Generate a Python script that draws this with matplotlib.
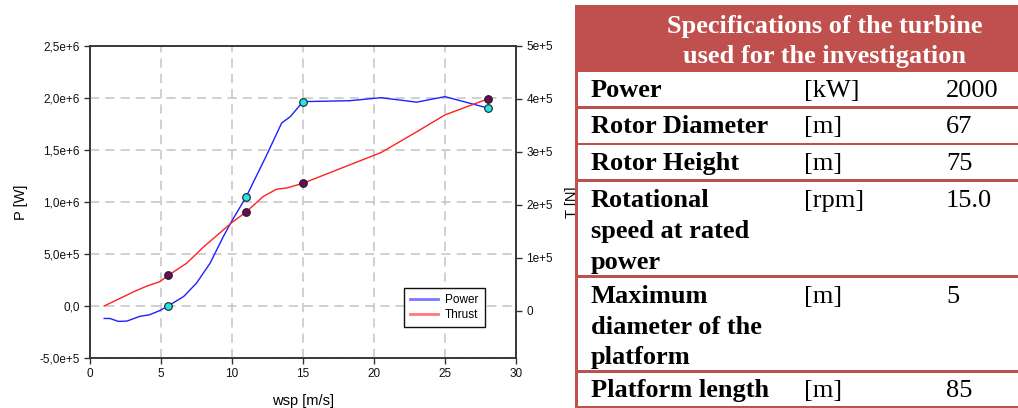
import matplotlib
matplotlib.use("Agg")
import matplotlib.pyplot as plt
from matplotlib.lines import Line2D
from matplotlib.patches import Rectangle

plt.rcParams["font.family"] = ["Liberation Sans", "DejaVu Sans"]

# power curve [W] vs wind speed [m/s]
wsp_power = [1.0, 1.4, 2.0, 2.6, 3.5, 4.2, 4.9, 5.5, 6.6, 7.5, 8.45, 9.4, 10.0,
             11.0, 12.4, 13.5, 14.1, 15.0, 18.3, 20.5, 23.0, 25.0, 28.0]
power = [-0.12e6, -0.12e6, -0.148e6, -0.145e6, -0.10e6, -0.084e6, -0.045e6,
         0.0, 0.092e6, 0.22e6, 0.41e6, 0.67e6, 0.82e6, 1.05e6, 1.44e6,
         1.76e6, 1.82e6, 1.965e6, 1.974e6, 2.003e6, 1.96e6, 2.013e6, 1.904e6]

# thrust curve [N] vs wind speed [m/s]
wsp_thrust = [1.0, 1.9, 3.05, 4.0, 4.9, 5.5, 6.8, 8.0, 10.0, 11.0, 12.2,
              13.15, 13.85, 15.0, 20.5, 23.0, 25.0, 28.0]
thrust = [0.094e5, 0.21e5, 0.36e5, 0.47e5, 0.55e5, 0.67e5, 0.90e5, 1.21e5,
          1.67e5, 1.87e5, 2.16e5, 2.30e5, 2.32e5, 2.41e5, 2.99e5, 3.38e5,
          3.70e5, 4.0e5]

# operating points marked on both curves
mark_wsp = [5.5, 11.0, 15.0, 28.0]
mark_power = [0.0, 1.05e6, 1.965e6, 1.904e6]
mark_thrust = [0.67e5, 1.87e5, 2.41e5, 4.0e5]

p_ticks = [-0.5e6, 0.0, 0.5e6, 1.0e6, 1.5e6, 2.0e6, 2.5e6]
p_ticklabels = ["-5,0e+5", "0,0", "5,0e+5", "1,0e+6", "1,5e+6", "2,0e+6", "2,5e+6"]
t_ticks = [0, 1e5, 2e5, 3e5, 4e5, 5e5]
t_ticklabels = ["0", "1e+5", "2e+5", "3e+5", "4e+5", "5e+5"]
x_ticks = [0, 5, 10, 15, 20, 25, 30]

# turbine spec table
spec_title = ["Specifications of the turbine", "used for the investigation"]
spec_names = ["Power", "Rotor Diameter", "Rotor Height",
              "Rotational\nspeed at rated\npower",
              "Maximum\ndiameter of the\nplatform", "Platform length"]
spec_units = ["[kW]", "[m]", "[m]", "[rpm]", "[m]", "[m]"]
spec_values = ["2000", "67", "75", "15.0", "5", "85"]

W, H = 1018, 408
fig = plt.figure(figsize=(W / 100, H / 100), dpi=100, facecolor="white")
ax = fig.add_axes([90 / W, 1 - 358 / H, 426 / W, 312 / H])
ax2 = ax.twinx()

spine_c = "#333333"
for a in (ax, ax2):
    for s in a.spines.values():
        s.set_color(spine_c)
        s.set_linewidth(1.1)
    a.tick_params(direction="out", length=4, width=1, color=spine_c,
                  labelsize=8.5, labelcolor="#111111")

ax.grid(True, ls=(0, (6, 4)), color="#c4c4c4", lw=1.1)
ax.set_axisbelow(True)

ax.plot(wsp_power, power, color="#1f1fff", lw=1.0, zorder=3)
ax.plot(mark_wsp, mark_power, ls="none", marker="o", ms=5.5,
        mfc="#22e6e6", mec="#202020", mew=0.8, zorder=4)
ax2.plot(wsp_thrust, thrust, color="#ff2020", lw=1.0, zorder=3)
ax2.plot(mark_wsp, mark_thrust, ls="none", marker="o", ms=5.5,
         mfc="#6a0a5c", mec="#202020", mew=0.8, zorder=4)

ax.set_xlim(0, 30)
ax.set_ylim(-0.5e6, 2.5e6)
ax2.set_ylim(-0.887e5, 5e5)
ax.set_xticks(x_ticks)
ax.set_yticks(p_ticks)
ax.set_yticklabels(p_ticklabels)
ax2.set_yticks(t_ticks)
ax2.set_yticklabels(t_ticklabels)

ax.set_xlabel("wsp [m/s]", fontsize=10.5)
ax.set_ylabel("P [W]", fontsize=10.5)
ax2.set_ylabel("T [N]", fontsize=10.5)
ax.xaxis.set_label_coords(0.5, -0.114)
ax.yaxis.set_label_coords(-0.1455, 0.5)
ax2.yaxis.set_label_coords(1.115, 0.5)

handles = [Line2D([], [], color="#1f1fff", alpha=0.6, lw=2),
           Line2D([], [], color="#ff2020", alpha=0.6, lw=2)]
leg = ax2.legend(handles, ["Power", "Thrust"], loc="upper left",
                 bbox_to_anchor=(398 / W, 1 - 282 / H),
                 bbox_transform=fig.transFigure, fontsize=8.5,
                 frameon=True, fancybox=False, framealpha=1,
                 edgecolor="#111111", handlelength=2.4, borderpad=0.5,
                 labelspacing=0.25, handletextpad=0.6)
leg.get_frame().set_linewidth(1.0)

# table drawn in pixel coordinates on a full-figure overlay
tab = fig.add_axes([0, 0, 1, 1], zorder=10)
tab.set_xlim(0, W)
tab.set_ylim(H, 0)
tab.axis("off")
tab.patch.set_visible(False)

red = "#c0504d"
tab.add_patch(Rectangle((575, 5), W - 575, H - 5, color=red, lw=0))
row_tops = [72, 108.7, 145.3, 182.3, 278, 372.7]
row_bots = [106, 142.7, 179.3, 275.3, 370, 405.5]
for top, bot in zip(row_tops, row_bots):
    tab.add_patch(Rectangle((578, top), W - 578, bot - top,
                            color="white", lw=0))

serif = ["Liberation Serif", "DejaVu Serif"]
for i, line in enumerate(spec_title):
    tab.text(825, 33 + 30 * i, line, ha="center", va="baseline",
             fontsize=19, fontweight="bold", color="white", family=serif)

line_gap = 30.8
for top, name, unit, val in zip(row_tops, spec_names, spec_units, spec_values):
    base = top + 24.7
    for j, part in enumerate(name.split("\n")):
        tab.text(591, base + j * line_gap, part, ha="left", va="baseline",
                 fontsize=19, fontweight="bold", color="black", family=serif)
    tab.text(804, base, unit, ha="left", va="baseline", fontsize=19,
             color="black", family=serif)
    tab.text(946, base, val, ha="left", va="baseline", fontsize=19,
             color="black", family=serif)

fig.savefig("out.png", dpi=100, facecolor="white")
